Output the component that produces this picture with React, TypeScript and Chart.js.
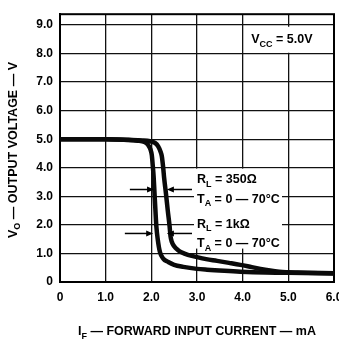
import React, { useEffect, useRef } from "react";
import { Chart, registerables } from "chart.js";

Chart.register(...registerables);

// ---- data ----
const currentA = [0, 0.5, 1.0, 1.4, 1.7, 1.85, 1.93, 1.98, 2.01, 2.03, 2.05, 2.07, 2.09, 2.11, 2.14, 2.19, 2.26, 2.37, 2.5, 2.7, 3.0, 3.22, 3.6, 3.95, 4.5, 5.0, 6.0];
const voltageA = [5.0, 5.0, 5.0, 4.98, 4.95, 4.9, 4.8, 4.65, 4.45, 4.1, 3.7, 3.1, 2.5, 1.95, 1.5, 1.04, 0.82, 0.7, 0.6, 0.53, 0.46, 0.43, 0.39, 0.36, 0.33, 0.32, 0.3];

const currentB = [0, 0.5, 1.0, 1.5, 1.8, 1.97, 2.08, 2.15, 2.2, 2.23, 2.26, 2.28, 2.32, 2.36, 2.4, 2.42, 2.45, 2.5, 2.58, 2.67, 2.8, 3.0, 3.2, 3.44, 3.7, 3.95, 4.2, 4.39, 4.6, 4.8, 5.2, 6.0];
const voltageB = [5.0, 5.0, 5.0, 4.98, 4.96, 4.93, 4.87, 4.75, 4.57, 4.4, 4.0, 3.65, 3.1, 2.5, 1.95, 1.6, 1.4, 1.25, 1.12, 1.03, 0.95, 0.87, 0.8, 0.74, 0.67, 0.6, 0.52, 0.46, 0.4, 0.36, 0.33, 0.31];

const xTickValues = [0, 1, 2, 3, 4, 5, 6];
const yTickValues = [0, 1, 2, 3, 4, 5, 6, 7, 8, 9];
const xMin = 0;
const xMax = 6;
const yMin = 0;
const yMax = 9.38;

const xTitle = "I_{F} — FORWARD INPUT CURRENT — mA";
const yTitle = "V_{O} — OUTPUT VOLTAGE — V";
const vccNote = "V_{CC} = 5.0V";
const noteLines = ["R_{L} = 350Ω", "T_{A} = 0 — 70°C", "R_{L} = 1kΩ", "T_{A} = 0 — 70°C"];
// note anchors in data units: [current, voltage] (left edge, vertical centre)
const noteCurrent = 3.0;
const noteVoltages = [3.62, 2.94, 2.06, 1.38];
const vccCurrent = 4.1;
const vccVoltage = 8.52;

// arrows: [voltage, tailCurrent, tipCurrent]
const arrowVoltages = [3.24, 3.24, 1.7, 1.7];
const arrowTails = [1.53, 2.89, 1.42, 2.89];
const arrowTips = [2.06, 2.34, 2.04, 2.34];

const FONT = '"Liberation Sans", Arial, Helvetica, sans-serif';

type Part = { t: string; sub: boolean };
function parseRich(s: string): Part[] {
  const parts: Part[] = [];
  const re = /_\{([^}]*)\}/g;
  let last = 0;
  let m: RegExpExecArray | null;
  while ((m = re.exec(s))) {
    if (m.index > last) parts.push({ t: s.slice(last, m.index), sub: false });
    parts.push({ t: m[1], sub: true });
    last = re.lastIndex;
  }
  if (last < s.length) parts.push({ t: s.slice(last), sub: false });
  return parts;
}

function richWidth(ctx: CanvasRenderingContext2D, s: string, size: number) {
  let w = 0;
  for (const p of parseRich(s)) {
    ctx.font = `bold ${p.sub ? size * 0.72 : size}px ${FONT}`;
    w += ctx.measureText(p.t).width;
  }
  return w;
}

function drawRich(ctx: CanvasRenderingContext2D, s: string, x: number, baseline: number, size: number, align: "left" | "center") {
  const w = richWidth(ctx, s, size);
  let cx = align === "center" ? x - w / 2 : x;
  ctx.textAlign = "left";
  ctx.textBaseline = "alphabetic";
  ctx.fillStyle = "#000";
  for (const p of parseRich(s)) {
    ctx.font = `bold ${p.sub ? size * 0.72 : size}px ${FONT}`;
    ctx.fillText(p.t, cx, p.sub ? baseline + size * 0.3 : baseline);
    cx += ctx.measureText(p.t).width;
  }
}

const annotationPlugin = {
  id: "annotations",
  beforeDatasetsDraw(chart: any) {
    const { ctx, chartArea, scales } = chart;
    const xs = scales.x;
    const ys = scales.y;
    ctx.save();
    // white boxes behind notes
    ctx.fillStyle = "#fff";
    const nx = xs.getPixelForValue(noteCurrent);
    const top = ys.getPixelForValue(noteVoltages[0]) - 10;
    const bot = ys.getPixelForValue(noteVoltages[3]) + 6;
    ctx.fillRect(nx - 3, top, 88, bot - top);
    const vx = xs.getPixelForValue(vccCurrent);
    const vy = ys.getPixelForValue(vccVoltage);
    ctx.fillRect(vx - 1, vy - 12, 68, 26);
    // frame
    ctx.strokeStyle = "#000";
    ctx.lineWidth = 2;
    ctx.strokeRect(chartArea.left, chartArea.top, chartArea.right - chartArea.left, chartArea.bottom - chartArea.top);
    ctx.restore();
  },
  afterDatasetsDraw(chart: any) {
    const { ctx, scales } = chart;
    const xs = scales.x;
    const ys = scales.y;
    ctx.save();
    const size = 12.5;
    const nx = xs.getPixelForValue(noteCurrent);
    noteLines.forEach((s, i) => {
      const cy = ys.getPixelForValue(noteVoltages[i]);
      drawRich(ctx, s, nx, cy + size * 0.36, size, "left");
    });
    const vx = xs.getPixelForValue(vccCurrent);
    const vy = ys.getPixelForValue(vccVoltage);
    drawRich(ctx, vccNote, vx + 4, vy + size * 0.36, size, "left");
    // arrows
    ctx.strokeStyle = "#000";
    ctx.fillStyle = "#000";
    ctx.lineWidth = 1.5;
    arrowVoltages.forEach((v, i) => {
      const y = ys.getPixelForValue(v);
      const x0 = xs.getPixelForValue(arrowTails[i]);
      const x1 = xs.getPixelForValue(arrowTips[i]);
      const dir = x1 > x0 ? 1 : -1;
      ctx.beginPath();
      ctx.moveTo(x0, y);
      ctx.lineTo(x1 - dir * 5, y);
      ctx.stroke();
      ctx.beginPath();
      ctx.moveTo(x1, y);
      ctx.lineTo(x1 - dir * 7, y - 3);
      ctx.lineTo(x1 - dir * 7, y + 3);
      ctx.closePath();
      ctx.fill();
    });
    ctx.restore();
  },
  afterDraw(chart: any) {
    const { ctx, chartArea } = chart;
    ctx.save();
    const size = 12.5;
    // x title
    drawRich(ctx, xTitle, (chartArea.left + chartArea.right) / 2, 335, size, "center");
    // y title
    ctx.translate(12, 150);
    ctx.rotate(-Math.PI / 2);
    drawRich(ctx, yTitle, 0, size * 0.36, size, "center");
    ctx.restore();
  },
};

export default function App() {
  const ref = useRef<HTMLCanvasElement | null>(null);
  useEffect(() => {
    if (!ref.current) return;
    const tickFont = { family: FONT, size: 12, weight: "bold" as const };
    const chart = new Chart(ref.current, {
      type: "line",
      data: {
        datasets: [
          {
            label: "A",
            data: currentA.map((x, i) => ({ x, y: voltageA[i] })),
            borderColor: "#0a0a0a",
            borderWidth: 4.5,
            pointRadius: 0,
            cubicInterpolationMode: "monotone",
            fill: false,
          },
          {
            label: "B",
            data: currentB.map((x, i) => ({ x, y: voltageB[i] })),
            borderColor: "#0a0a0a",
            borderWidth: 4.5,
            pointRadius: 0,
            cubicInterpolationMode: "monotone",
            fill: false,
          },
        ],
      },
      options: {
        responsive: false,
        animation: false,
        devicePixelRatio: 1,
        layout: { padding: { left: 0, right: 26, top: 8, bottom: 0 } },
        plugins: { legend: { display: false }, tooltip: { enabled: false }, title: { display: false } },
        scales: {
          x: {
            type: "linear",
            min: xMin,
            max: xMax,
            afterBuildTicks: (s: any) => {
              s.ticks = xTickValues.map((v) => ({ value: v }));
            },
            afterFit: (s: any) => {
              s.height = 58;
            },
            grid: { color: "#111", lineWidth: 1.3, drawTicks: false },
            border: { color: "#000", width: 2 },
            ticks: {
              padding: 8,
              color: "#000",
              font: tickFont,
              maxRotation: 0,
              autoSkip: false,
              callback: (v: any) => (Number(v) === 0 ? "0" : Number(v).toFixed(1)),
            },
          },
          y: {
            type: "linear",
            min: yMin,
            max: yMax,
            afterBuildTicks: (s: any) => {
              s.ticks = yTickValues.map((v) => ({ value: v }));
            },
            afterFit: (s: any) => {
              s.width = 60;
            },
            grid: { color: "#111", lineWidth: 1.3, drawTicks: false },
            border: { color: "#000", width: 2 },
            ticks: {
              padding: 7,
              color: "#000",
              font: tickFont,
              autoSkip: false,
              callback: (v: any) => (Number(v) === 0 ? "0" : Number(v).toFixed(1)),
            },
          },
        },
      },
      plugins: [annotationPlugin],
    } as any);
    return () => chart.destroy();
  }, []);
  return (
    <div style={{ position: "fixed", left: 0, top: 0, width: 339, height: 340, overflow: "hidden", background: "#fff" }}>
      <canvas ref={ref} width={360} height={340} style={{ display: "block", width: 360, height: 340 }} />
    </div>
  );
}
